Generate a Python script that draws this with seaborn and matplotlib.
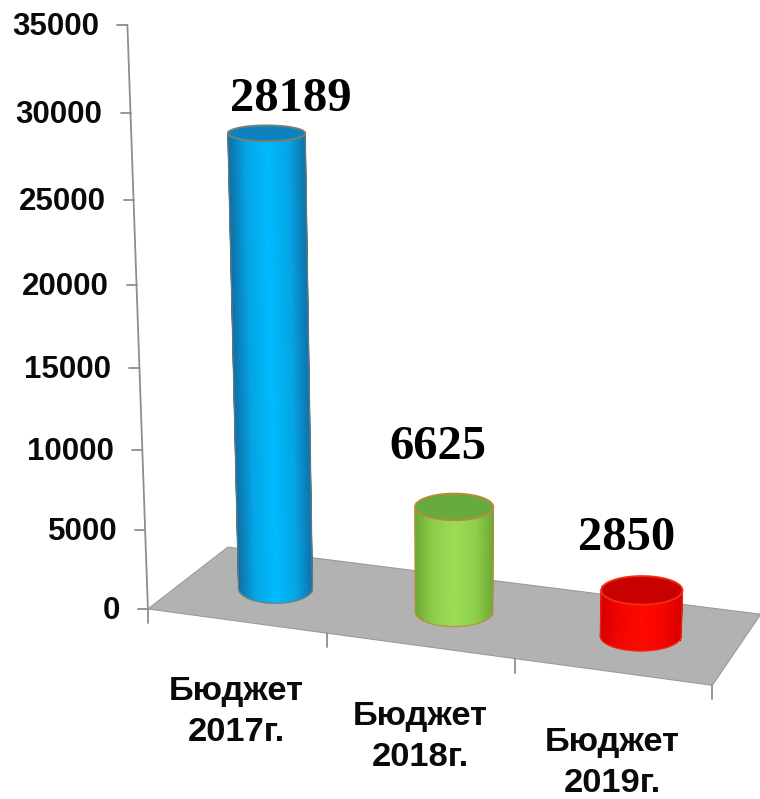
"""Budget cylinders on a tilted floor, drawn with seaborn bars and a camera projection."""

import matplotlib

matplotlib.use("Agg")

import matplotlib.pyplot as plt
import numpy as np
import seaborn as sns
from matplotlib.collections import PolyCollection
from matplotlib.colors import LinearSegmentedColormap, to_rgb
from matplotlib.patches import Polygon
from matplotlib.transforms import Transform

categories = ["Бюджет\n2017г.", "Бюджет\n2018г.", "Бюджет\n2019г."]
values = [28189, 6625, 2850]
y_ticks = [0, 5000, 10000, 15000, 20000, 25000, 30000, 35000]

edge_colors = ["#0f70a8", "#6faa35", "#d60000"]
mid_colors = ["#00bcff", "#9bde55", "#ff0800"]
top_colors = ["#0c83bd", "#67aa3e", "#c80000"]
rim_colors = ["#7f7f70", "#bd8a3c", "#f03010"]

# world point (x, value, depth) -> pixel in the image, used to fit the camera
CALIBRATION = [
    (0, 0, 0, 148, 608), (3, 0, 0, 712, 685), (3, 0, 1, 760, 613), (0, 0, 1, 228, 548),
    (0, 35000, 0, 128, 25), (0, 30000, 0, 130, 113), (0, 25000, 0, 134, 200), (0, 5000, 0, 145, 531),
    (1, 0, 0, 327, 632), (2, 0, 0, 515, 660),
    (0.5, 28189, 0.5, 266, 133), (1.5, 6625, 0.5, 454, 507), (2.5, 2850, 0.5, 642, 591),
    (0.5, 0, 0.5, 275, 588), (1.5, 0, 0.5, 455, 611), (2.5, 0, 0.5, 642, 637),
]
Y_SCALE = 35000.0
BAR_WIDTH = 0.42
LABEL_OFFSETS = [(24, -34), (-16, -60), (-15, -52)]

# ellipse half-height in pixels at the floor and how much it flattens per unit of value
ELLIPSE_BASE = 15.0
ELLIPSE_FLATTEN = 7.0 / 28189


def fit_camera(points):
    rows, rhs = [], []
    for x, y, z, px, py in points:
        y = y / Y_SCALE
        rows.append([x, y, z, 1, 0, 0, 0, 0, -px * x, -px * y, -px * z])
        rows.append([0, 0, 0, 0, x, y, z, 1, -py * x, -py * y, -py * z])
        rhs += [px, py]
    sol = np.linalg.lstsq(np.array(rows, float), np.array(rhs, float), rcond=None)[0]
    return np.append(sol, 1.0).reshape(3, 4)


CAMERA = fit_camera(CALIBRATION)


def project(x, y, z):
    x, y, z = np.broadcast_arrays(np.asarray(x, float), np.asarray(y, float), np.asarray(z, float))
    world = np.stack([x, y / Y_SCALE, z, np.ones_like(x)], axis=-1)
    img = world @ CAMERA.T
    return img[..., :2] / img[..., 2:]


def disc_outline(cx, rx, value, theta):
    """Upright ellipse in pixels for the cylinder section at a given value."""
    centre = project(cx, value, 0.5)
    half_w = np.linalg.norm(project(cx + rx, value, 0.5) - project(cx - rx, value, 0.5)) / 2
    half_h = ELLIPSE_BASE - ELLIPSE_FLATTEN * value
    return np.column_stack([centre[0] + half_w * np.cos(theta), centre[1] + half_h * np.sin(theta)])


class BarPlane(Transform):
    """Maps seaborn's (category, value) bar coordinates onto a plane at fixed depth."""

    input_dims = 2
    output_dims = 2

    def __init__(self, plane_depth):
        super().__init__()
        self.plane_depth = plane_depth

    def transform_non_affine(self, values):
        values = np.asarray(values)
        return project(values[:, 0] + 0.5, values[:, 1], self.plane_depth)


sns.set_theme(style="white")
plt.rcParams["font.family"] = ["Liberation Sans", "DejaVu Sans"]

fig, ax = plt.subplots(figsize=(7.6, 7.99), dpi=100)
fig.patch.set_facecolor("white")
ax.set_position([0, 0, 1, 1])

sns.barplot(
    x=categories,
    y=values,
    hue=categories,
    palette=edge_colors,
    width=BAR_WIDTH,
    legend=False,
    saturation=1,
    ax=ax,
)
bars = list(ax.patches)
# axes data coordinates are image pixels from here on
ax.set_xlim(0, 760)
ax.set_ylim(799, 0)
ax.set_axis_off()

# floor
floor = project([0, 3, 3, 0], 0, [0, 0, 1, 1])
ax.add_patch(Polygon(floor, closed=True, facecolor="#b2b2b2", edgecolor="#9a9a9a", linewidth=0.8, zorder=0.5))

# value axis
axis_color = "#8e8e8e"
axis_line = project([0, 0], [0, y_ticks[-1]], [0, 0])
ax.plot(axis_line[:, 0], axis_line[:, 1], color=axis_color, linewidth=1.3, zorder=0.6)
for tick in y_ticks:
    px, py = project(0, tick, 0)
    ax.plot([px - 10, px], [py, py], color=axis_color, linewidth=1.3, zorder=0.6)
    ax.text(px - 28, py + 2, str(tick), ha="right", va="center", fontsize=22.5, fontweight="bold", color="#0a0a0a")

# category axis
for k in range(len(categories) + 1):
    px, py = project(k, 0, 0)
    ax.plot([px, px], [py, py + 14], color=axis_color, linewidth=1.3, zorder=0.6)
for k, name in enumerate(categories):
    px, py = project(k + 0.5, 0, 0)
    ax.text(px, py + 91, name, ha="center", va="center", fontsize=24.8, fontweight="bold",
            color="#0a0a0a", linespacing=1.42)

# cylinders around the seaborn bars
theta_front = np.linspace(0, np.pi, 61)
theta_full = np.linspace(0, 2 * np.pi, 121)
for i, bar in enumerate(bars):
    bar.set_transform(BarPlane(0.5) + ax.transData)
    bar.set_edgecolor("none")
    bar.set_zorder(1)
    cx = bar.get_x() + bar.get_width() / 2 + 0.5
    rx = bar.get_width() / 2
    height = bar.get_height()

    base = disc_outline(cx, rx, 0, theta_front)
    top = disc_outline(cx, rx, height, theta_front)
    quads = [
        [base[j], base[j + 1], top[j + 1], top[j]]
        for j in range(len(theta_front) - 1)
    ]
    shoulder = 0.3 * np.array(to_rgb(edge_colors[i])) + 0.7 * np.array(to_rgb(mid_colors[i]))
    cmap = LinearSegmentedColormap.from_list(
        "side",
        [(0, edge_colors[i]), (0.22, shoulder), (0.5, mid_colors[i]), (0.78, shoulder), (1, edge_colors[i])],
    )
    shade = (np.cos(theta_front[:-1] + np.diff(theta_front) / 2) + 1) / 2
    face = cmap(shade)
    ax.add_collection(PolyCollection(quads, facecolors=face, edgecolors=face, linewidths=0.6, zorder=2))
    ax.plot(base[:, 0], base[:, 1], color=rim_colors[i], linewidth=1.0, alpha=0.8, zorder=2.1)
    for end in (0, -1):
        ax.plot([base[end, 0], top[end, 0]], [base[end, 1], top[end, 1]],
                color=rim_colors[i], linewidth=1.0, alpha=0.7, zorder=2.1)

    lid = disc_outline(cx, rx, height, theta_full)
    ax.add_patch(Polygon(lid, closed=True, facecolor=top_colors[i], edgecolor=rim_colors[i], linewidth=1.3, zorder=2.2))

    px, py = project(cx, height, 0.5)
    dx, dy = LABEL_OFFSETS[i]
    ax.text(px + dx, py + dy, str(values[i]), ha="center", va="center", fontsize=35,
            fontweight="bold", family=["Liberation Serif", "DejaVu Serif"], color="black")

fig.savefig("out.png", dpi=100, facecolor="white")
